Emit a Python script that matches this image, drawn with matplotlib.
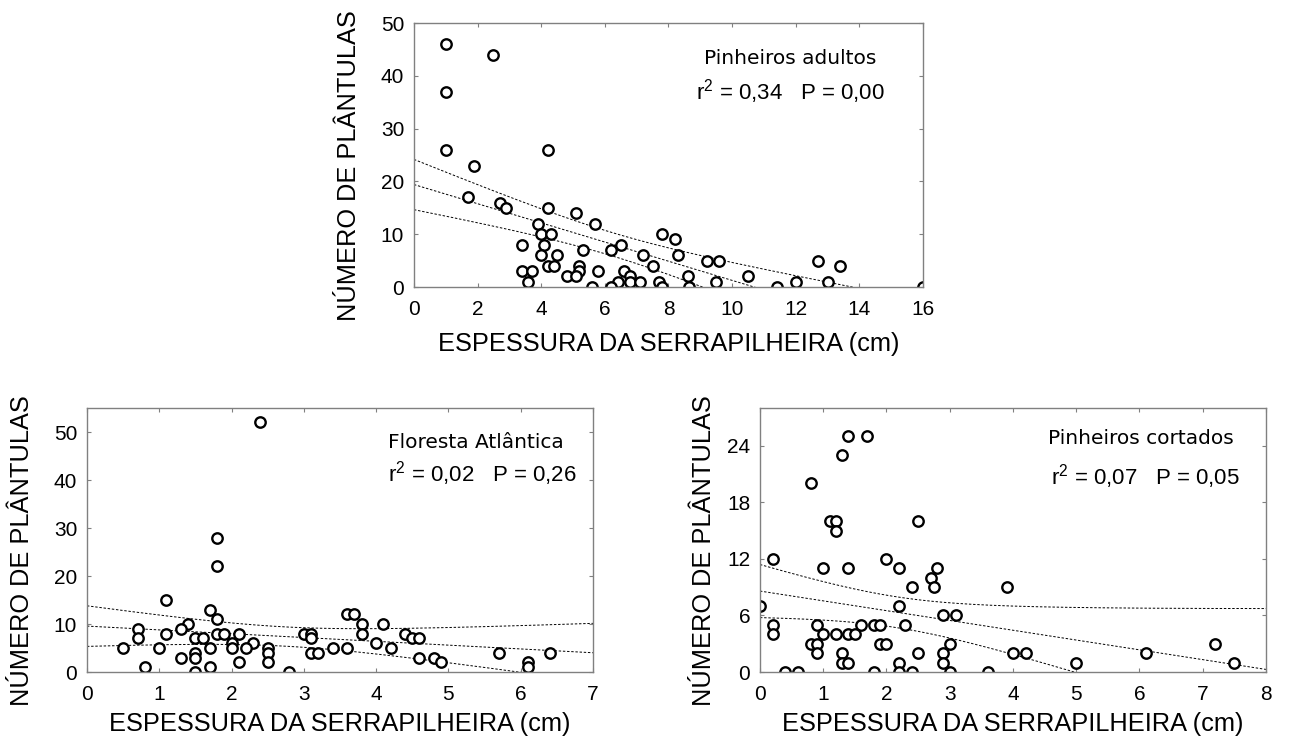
import matplotlib
matplotlib.use("Agg")
import matplotlib.pyplot as plt
import numpy as np

plt.rcParams["font.family"] = ["Liberation Sans", "DejaVu Sans"]
plt.rcParams["mathtext.fontset"] = "custom"
plt.rcParams["mathtext.rm"] = "Liberation Sans"
plt.rcParams["mathtext.it"] = "Liberation Sans"

# ---- dados ----
adultos_x = [1, 2.5, 1, 1, 4.2, 1.9, 1.7, 2.7, 2.9, 4.2, 5.1, 5.7, 3.9, 4.0, 4.3,
             7.8, 8.2, 6.5, 3.4, 4.1, 5.3, 6.2, 7.2, 8.3, 4.0, 4.5, 9.2, 9.6,
             12.7, 13.4, 4.2, 4.4, 5.2, 7.5, 3.4, 3.7, 5.2, 5.8, 6.6, 6.8, 4.8,
             5.1, 8.6, 10.5, 3.6, 6.4, 6.8, 7.1, 7.7, 9.5, 12.0, 13.0, 5.6, 6.2,
             7.8, 8.65, 11.4, 16]
adultos_y = [46, 44, 37, 26, 26, 23, 17, 16, 15, 15, 14, 12, 12, 10, 10,
             10, 9, 8, 8, 8, 7, 7, 6, 6, 6, 6, 5, 5,
             5, 4, 4, 4, 4, 4, 3, 3, 3, 3, 3, 2, 2,
             2, 2, 2, 1, 1, 1, 1, 1, 1, 1, 1, 0, 0,
             0, 0, 0, 0]

floresta_x = [2.4, 1.8, 1.8, 1.1, 1.7, 1.8, 3.6, 3.7, 1.4, 3.8, 4.1, 0.7, 1.3,
              1.1, 1.8, 1.9, 2.1, 3.0, 3.1, 3.8, 4.4, 0.7, 1.5, 1.6, 3.1, 4.5,
              4.6, 2.0, 2.3, 4.0, 0.5, 1.0, 1.7, 2.0, 2.2, 2.5, 3.6, 4.2, 3.4,
              1.5, 2.5, 3.1, 3.2, 5.7, 6.4, 1.3, 1.5, 4.6, 4.8, 2.1, 2.5, 4.9,
              6.1, 0.8, 1.7, 6.1, 1.5, 2.8]
floresta_y = [52, 28, 22, 15, 13, 11, 12, 12, 10, 10, 10, 9, 9,
              8, 8, 8, 8, 8, 8, 8, 8, 7, 7, 7, 7, 7,
              7, 6, 6, 6, 5, 5, 5, 5, 5, 5, 5, 5, 5,
              4, 4, 4, 4, 4, 4, 3, 3, 3, 3, 2, 2, 2,
              2, 1, 1, 1, 0, 0]

cortados_x = [1.4, 1.7, 1.3, 0.8, 1.1, 1.2, 2.5, 1.2, 0.2, 2.0, 1.0, 1.4, 2.2,
              2.8, 2.7, 2.4, 2.75, 3.9, 0, 2.2, 2.9, 3.1, 0.2, 0.9, 1.6, 1.8,
              1.9, 2.3, 0.2, 1.0, 1.2, 1.4, 1.5, 0.8, 0.9, 1.9, 2.0, 3.0, 7.2,
              0.9, 1.3, 2.5, 2.9, 4.0, 4.2, 6.1, 1.3, 1.4, 2.2, 2.9, 5.0, 7.5,
              0.4, 0.6, 1.8, 2.2, 2.4, 3.0, 3.6]
cortados_y = [25, 25, 23, 20, 16, 16, 16, 15, 12, 12, 11, 11, 11,
              11, 10, 9, 9, 9, 7, 7, 6, 6, 5, 5, 5, 5,
              5, 5, 4, 4, 4, 4, 4, 3, 3, 3, 3, 3, 3,
              2, 2, 2, 2, 2, 2, 2, 1, 1, 1, 1, 1, 1,
              0, 0, 0, 0, 0, 0, 0]

titulos = ["Pinheiros adultos", "Floresta Atlântica", "Pinheiros cortados"]
estat = ["r$^2$ = 0,34   P = 0,00", "r$^2$ = 0,02   P = 0,26", "r$^2$ = 0,07   P = 0,05"]


def regressao(ax, x, y, xmax):
    x = np.asarray(x, float)
    y = np.asarray(y, float)
    n = len(x)
    b, a = np.polyfit(x, y, 1)
    res = y - (a + b * x)
    s = np.sqrt(np.sum(res ** 2) / (n - 2))
    sxx = np.sum((x - x.mean()) ** 2)
    xs = np.linspace(0, xmax, 200)
    yh = a + b * xs
    ci = 2.0 * s * np.sqrt(1.0 / n + (xs - x.mean()) ** 2 / sxx)
    for yy in (yh + ci, yh, yh - ci):
        ax.plot(xs, yy, color="black", lw=0.7, dashes=(2.5, 1.8))


def painel(rect, x, y, xmax, ymax, yticks, titulo, txt, tpos, xpad, ypad):
    ax = fig.add_axes(rect)
    regressao(ax, x, y, xmax)
    ax.plot(x, y, "o", ms=7.5, mfc="white", mec="black", mew=1.7, ls="none")
    ax.set_xlim(0, xmax)
    ax.set_ylim(0, ymax)
    ax.set_yticks(yticks)
    for sp in ax.spines.values():
        sp.set_color("#808080")
        sp.set_linewidth(1.0)
    ax.tick_params(direction="in", top=True, right=True, length=3,
                   color="#808080", labelsize=15)
    ax.tick_params(axis="x", pad=9)
    ax.tick_params(axis="y", pad=7)
    ax.set_xlabel("ESPESSURA DA SERRAPILHEIRA (cm)", fontsize=18.3, labelpad=xpad)
    ax.set_ylabel("NÚMERO DE PLÂNTULAS", fontsize=18.3, labelpad=ypad)
    ax.yaxis.label.set_y(0.458)
    ax.text(tpos[0], tpos[1], titulo, transform=ax.transAxes, ha="center",
            va="center", fontsize=14.5, family=["DejaVu Sans"])
    ax.text(tpos[2], tpos[3], txt, transform=ax.transAxes, ha="center",
            va="center", fontsize=16)
    return ax


fig = plt.figure(figsize=(12.92, 7.42), dpi=100)

ax1 = painel([0.3204, 0.6132, 0.394, 0.3558], adultos_x, adultos_y, 16, 50,
             [0, 10, 20, 30, 40, 50], titulos[0], estat[0],
             (0.739, 0.867, 0.739, 0.739), 10, 14)
ax1.set_xticks(range(0, 17, 2))

ax2 = painel([0.0673, 0.0943, 0.3916, 0.3558], floresta_x, floresta_y, 7, 55,
             [0, 10, 20, 30, 40, 50], titulos[1], estat[1],
             (0.769, 0.871, 0.781, 0.75), 6, 14)
ax2.set_xticks(range(0, 8))

ax3 = painel([0.5882, 0.0943, 0.3916, 0.3558], cortados_x, cortados_y, 8, 28,
             [0, 6, 12, 18, 24], titulos[2], estat[2],
             (0.753, 0.886, 0.761, 0.739), 6, 8)
ax3.set_xticks(range(0, 9))

fig.savefig("out.png", dpi=100, facecolor="white")
